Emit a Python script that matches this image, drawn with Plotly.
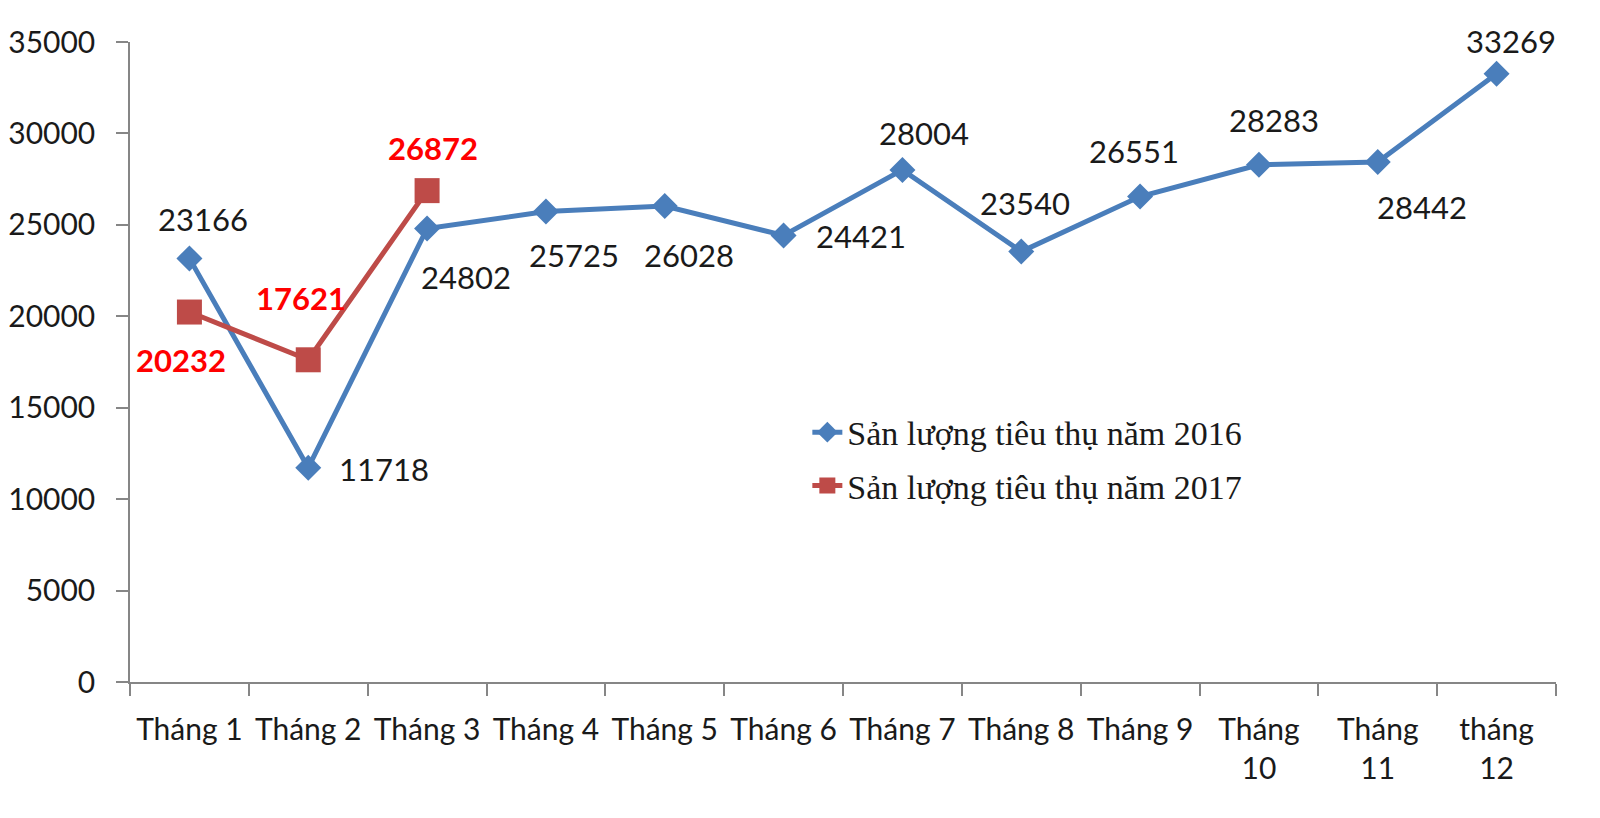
import plotly.graph_objects as go

# Monthly consumption volumes
months = ["Tháng 1", "Tháng 2", "Tháng 3", "Tháng 4", "Tháng 5", "Tháng 6",
          "Tháng 7", "Tháng 8", "Tháng 9", "Tháng<br>10", "Tháng<br>11", "tháng<br>12"]
sales_2016 = [23166, 11718, 24802, 25725, 26028, 24421,
              28004, 23540, 26551, 28283, 28442, 33269]
sales_2017 = [20232, 17621, 26872]

name_2016 = "Sản lượng tiêu thụ năm 2016"
name_2017 = "Sản lượng tiêu thụ năm 2017"

BLUE = "#4A7EBB"
RED = "#BE4B48"
AXIS = "#868686"
FONT = "Lato, 'Open Sans', sans-serif"

# pixel offsets (x, y) of each data label from its point, as placed in the original
shift_2016 = [(14, 39), (76, -1), (39, -49), (28, -43), (24, -49), (77, -1),
              (22, 37), (4, 49), (-6, 46), (15, 45), (44, -45), (14, 33)]
shift_2017 = [(-8, -48), (-7, 62), (6, 43)]

fig = go.Figure()

fig.add_trace(
    go.Scatter(
        x=months,
        y=sales_2016,
        name=name_2016,
        legendgroup="a",
        mode="lines+markers",
        line=dict(color=BLUE, width=5),
        marker=dict(symbol="diamond", size=20, color=BLUE),
        cliponaxis=False,
    )
)

fig.add_trace(
    go.Scatter(
        x=months[: len(sales_2017)],
        y=sales_2017,
        name=name_2017,
        legendgroup="b",
        mode="lines+markers",
        line=dict(color=RED, width=5),
        marker=dict(symbol="square", size=25, color=RED),
        cliponaxis=False,
    )
)

# data labels
for m, v, (dx, dy) in zip(months, sales_2016, shift_2016):
    fig.add_annotation(
        x=m, y=v, text=str(v), showarrow=False, xshift=dx, yshift=dy,
        font=dict(family=FONT, size=31, color="#1a1a1a"),
    )
for m, v, (dx, dy) in zip(months, sales_2017, shift_2017):
    fig.add_annotation(
        x=m, y=v, text=str(v), showarrow=False, xshift=dx, yshift=dy,
        font=dict(family=FONT, size=31, color="#FF0000", weight="bold"),
    )

fig.update_layout(
    width=1584,
    height=802,
    paper_bgcolor="white",
    plot_bgcolor="white",
    margin=dict(l=122, r=36, t=34, b=128),
    font=dict(family=FONT, size=30, color="#1a1a1a"),
    showlegend=True,
    legend=dict(
        x=0.475,
        y=0.435,
        xanchor="left",
        yanchor="top",
        traceorder="grouped",
        tracegroupgap=6,
        font=dict(family="Liberation Serif, 'Times New Roman', serif", size=34, color="#1a1a1a"),
        bgcolor="rgba(0,0,0,0)",
    ),
)

fig.update_xaxes(
    type="category",
    range=[-0.5, 11.5],
    automargin=False,
    showline=True,
    linecolor=AXIS,
    linewidth=1.5,
    ticks="outside",
    tickson="boundaries",
    ticklen=12,
    tickcolor=AXIS,
    tickwidth=1.5,
    showgrid=False,
    zeroline=False,
    ticklabelstandoff=20,
    tickfont=dict(family=FONT, size=30, color="#1a1a1a"),
)

fig.update_yaxes(
    range=[0, 35000],
    dtick=5000,
    tickformat="d",
    automargin=False,
    showline=True,
    linecolor=AXIS,
    linewidth=1.5,
    ticks="outside",
    ticklen=12,
    tickcolor=AXIS,
    tickwidth=1.5,
    showgrid=False,
    zeroline=False,
    ticklabelstandoff=15,
    tickfont=dict(family=FONT, size=30, color="#1a1a1a"),
)

fig.write_html("out.html")
